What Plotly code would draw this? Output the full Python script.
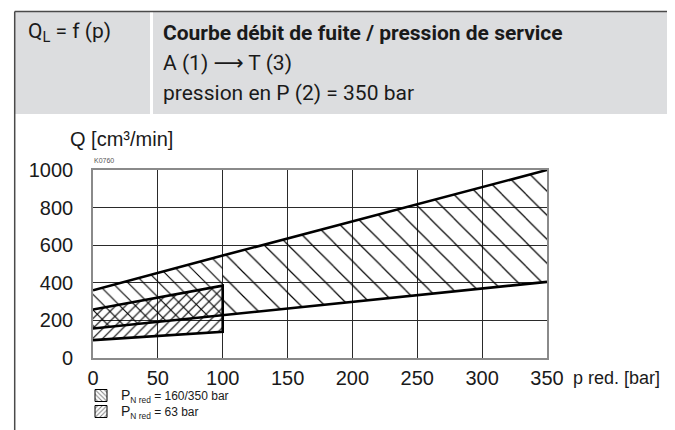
import plotly.graph_objects as go

# ---------------- data ----------------
p_band1 = [0, 100, 350]                 # p red. [bar]
q_band1_upper = [360, 545, 1000]        # Q [cm3/min], PN red = 160/350 bar
q_band1_lower = [157, 228, 405]

p_band2 = [0, 100]
q_band2_upper = [258, 385]              # PN red = 63 bar
q_band2_lower = [95, 140]

x_ticks = [0, 50, 100, 150, 200, 250, 300, 350]
y_ticks = [0, 200, 400, 600, 800, 1000]

title_left = "Q<sub>L</sub> = f (p)"
title_main = "<b>Courbe débit de fuite / pression de service</b>"
title_line2 = "A (1) <span style='font-family:DejaVu Sans'>⟶</span> T (3)"
title_line3 = "pression en P (2) = 350 bar"
y_title = "Q [cm³/min]"
x_title = "p red. [bar]"
code_label = "K0760"
legend_1 = "<span style='font-size:14px'>P</span><sub>N red</sub> = 160/350 bar"
legend_2 = "<span style='font-size:14px'>P</span><sub>N red</sub> = 63 bar"

# ---------------- geometry helpers ----------------
# the page body adds an 8 px offset; margins below are in figure pixels,
# px()/py() take screen pixels and return paper coordinates.
OFF = 8
L, R, T, B = 85, 136, 162, 80
W, H = 675 - L - R, 430 - T - B


def px(x):
    return (x - OFF - L) / W


def py(y):
    return (430 - B - (y - OFF)) / H


HEAD = "Roboto, Liberation Sans, sans-serif"
ARIAL = "Liberation Sans, Arial, sans-serif"

fig = go.Figure()

# band 1 fills (two hatch densities, left and right of p = 100)
for i, size, sol in [(0, 11, 0.1), (1, 17, 0.07)]:
    xs = [p_band1[i], p_band1[i + 1], p_band1[i + 1], p_band1[i]]
    ys = [q_band1_upper[i], q_band1_upper[i + 1], q_band1_lower[i + 1], q_band1_lower[i]]
    fig.add_trace(go.Scatter(
        x=xs, y=ys, fill="toself", mode="none", showlegend=False,
        fillcolor="rgba(0,0,0,0)", hoverinfo="skip",
        fillpattern=dict(shape="\\", size=size, solidity=sol, fgcolor="black",
                         bgcolor="rgba(0,0,0,0)", fgopacity=1)))

# band 2 fill
fig.add_trace(go.Scatter(
    x=[p_band2[0], p_band2[1], p_band2[1], p_band2[0]],
    y=[q_band2_upper[0], q_band2_upper[1], q_band2_lower[1], q_band2_lower[0]],
    fill="toself", mode="none", showlegend=False, fillcolor="rgba(0,0,0,0)",
    hoverinfo="skip",
    fillpattern=dict(shape="/", size=7, solidity=0.16, fgcolor="black",
                     bgcolor="rgba(0,0,0,0)", fgopacity=1)))

# outlines
line_style = dict(color="black", width=2.6)
fig.add_trace(go.Scatter(x=p_band1, y=q_band1_upper, mode="lines", line=line_style, showlegend=False))
fig.add_trace(go.Scatter(x=p_band1, y=q_band1_lower, mode="lines", line=line_style, showlegend=False))
fig.add_trace(go.Scatter(
    x=[p_band2[0], p_band2[1], p_band2[1], p_band2[0]],
    y=[q_band2_upper[0], q_band2_upper[1], q_band2_lower[1], q_band2_lower[0]],
    mode="lines", line=line_style, showlegend=False))

# legend entries (patterned swatches), one legend each for exact spacing
for name, shape, leg in [(legend_1, "\\", "legend"), (legend_2, "/", "legend2")]:
    fig.add_trace(go.Bar(
        x=[None], y=[None], name=name, showlegend=True, legend=leg,
        marker=dict(color="white", line=dict(color="black", width=1),
                    pattern=dict(shape=shape, size=4, solidity=0.3, fgcolor="black",
                                 bgcolor="white"))))

leg_common = dict(xanchor="left", yanchor="top",
                  font=dict(family=ARIAL, size=12, color="#1a1a1a"),
                  bgcolor="rgba(0,0,0,0)", borderwidth=0,
                  itemclick=False, itemdoubleclick=False)

fig.update_layout(
    width=675, height=430,
    margin=dict(l=L, r=R, t=T, b=B, autoexpand=False),
    paper_bgcolor="white", plot_bgcolor="white",
    font=dict(family=ARIAL, color="#1a1a1a"),
    showlegend=True,
    legend=dict(x=px(81), y=py(381), **leg_common),
    legend2=dict(x=px(81), y=py(397), **leg_common),
    xaxis=dict(range=[0, 350], tickvals=x_ticks, ticktext=[str(v) for v in x_ticks],
               showgrid=True, gridcolor="#2a2a2a", gridwidth=1, zeroline=False,
               showline=True, linecolor="#8a8a8a", linewidth=1.6, mirror=True,
               ticks="", ticklabelstandoff=1,
               tickfont=dict(family=ARIAL, size=20, color="#1a1a1a"), fixedrange=True),
    yaxis=dict(range=[0, 1000], tickvals=y_ticks, ticktext=[str(v) for v in y_ticks],
               showgrid=True, gridcolor="#2a2a2a", gridwidth=1, zeroline=False,
               showline=True, linecolor="#8a8a8a", linewidth=1.6, mirror=True,
               ticks="", ticklabelstandoff=14,
               tickfont=dict(family=ARIAL, size=20, color="#1a1a1a"), fixedrange=True),
)

# header and frame
shapes = [
    dict(type="rect", xref="paper", yref="paper", x0=px(14.7), x1=px(671), y0=py(114), y1=py(11.5),
         fillcolor="#dcdddf", line=dict(width=0), layer="below"),
    dict(type="rect", xref="paper", yref="paper", x0=px(150), x1=px(153), y0=py(114), y1=py(11.5),
         fillcolor="white", line=dict(width=0), layer="below"),
    dict(type="line", xref="paper", yref="paper", x0=px(14.7), x1=px(14.7), y0=py(11.5), y1=py(440),
         line=dict(color="#4a4a4a", width=1.5)),
    dict(type="line", xref="paper", yref="paper", x0=px(671), x1=px(671), y0=py(11.5), y1=py(440),
         line=dict(color="#4a4a4a", width=1.5)),
    dict(type="line", xref="paper", yref="paper", x0=px(14.7), x1=px(671), y0=py(11.5), y1=py(11.5),
         line=dict(color="#4a4a4a", width=1.5)),
]
fig.update_layout(shapes=shapes)

ann = [
    (title_left, 26, 33, HEAD, 21),
    (title_main, 161, 33, HEAD, 21),
    (title_line2, 161, 63, HEAD, 21),
    (title_line3, 161, 93, HEAD, 21),
    (y_title, 68, 139, ARIAL, 20),
    (x_title, 571, 378, ARIAL, 18),
]
for text, x, y, fam, size in ann:
    fig.add_annotation(text=text, xref="paper", yref="paper", x=px(x), y=py(y),
                       xanchor="left", yanchor="middle", showarrow=False,
                       font=dict(family=fam, size=size, color="#1a1a1a"))
fig.add_annotation(text=code_label, xref="paper", yref="paper", x=px(92), y=py(160),
                   xanchor="left", yanchor="middle", showarrow=False,
                   font=dict(family=ARIAL, size=7, color="#555555"))

fig.write_html("out.html")
